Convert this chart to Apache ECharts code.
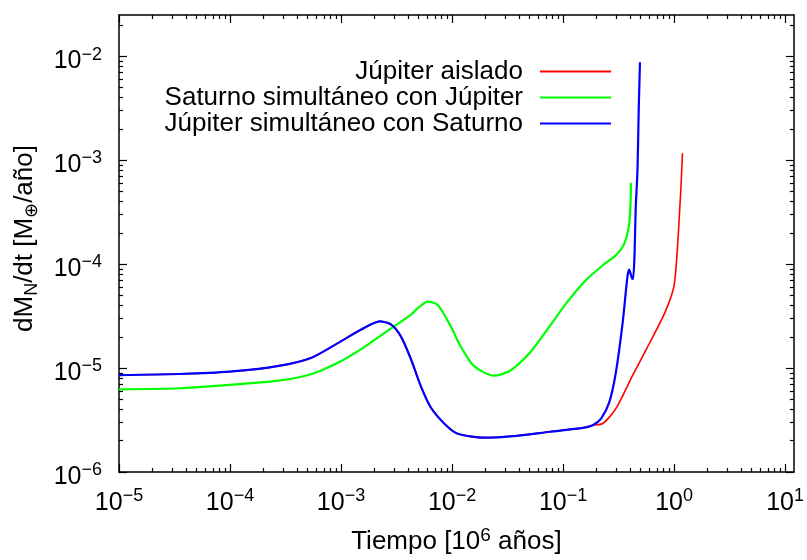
<!DOCTYPE html>
<html>
<head>
<meta charset="utf-8">
<script src="https://cdn.jsdelivr.net/npm/echarts@6/dist/echarts.min.js"></script>
<style>html,body{margin:0;padding:0;background:#fff}#c{width:807px;height:560px}</style>
</head>
<body>
<div id="c"></div>
<script>
// ---------------- data ----------------
const seriesNames = ['Júpiter aislado', 'Saturno simultáneo con Júpiter', 'Júpiter simultáneo con Saturno'];

// [tiempo (10^6 años), dM/dt (M_tierra/año)]
const jupiterAislado = [
  [1e-5, 8.57e-6], [3.52e-5, 8.77e-6], [9.86e-5, 9.23e-6], [2.75e-4, 1.05e-5], [5.43e-4, 1.26e-5],
  [9.46e-4, 1.75e-5], [1.52e-3, 2.35e-5], [2.23e-3, 2.82e-5], [2.81e-3, 2.64e-5], [3.45e-3, 2.03e-5],
  [4.25e-3, 1.23e-5], [5.21e-3, 6.78e-6], [6.40e-3, 4.22e-6], [8.49e-3, 2.93e-6], [1.11e-2, 2.35e-6],
  [1.93e-2, 2.14e-6], [3.83e-2, 2.23e-6], [7.58e-2, 2.44e-6], [0.151, 2.66e-6], [0.185, 2.82e-6],
  [0.228, 2.93e-6], [0.299, 4.07e-6], [0.422, 8.45e-6], [0.593, 1.69e-5], [0.836, 3.51e-5],
  [1.007, 6.49e-5], [1.14, 4.38e-4], [1.19, 1.17e-3]
];
const saturnoSimultaneo = [
  [1e-5, 6.25e-6], [3.52e-5, 6.40e-6], [9.86e-5, 6.89e-6], [2.75e-4, 7.57e-6], [5.43e-4, 8.77e-6],
  [9.46e-4, 1.13e-5], [1.52e-3, 1.52e-5], [2.47e-3, 2.18e-5], [4.27e-3, 3.27e-5], [4.89e-3, 3.75e-5],
  [6.03e-3, 4.37e-5], [7.40e-3, 4.07e-5], [9.73e-3, 2.53e-5], [1.19e-2, 1.63e-5], [1.57e-2, 1.05e-5],
  [2.37e-2, 8.45e-6], [3.33e-2, 9.42e-6], [5.04e-2, 1.41e-5], [7.58e-2, 2.53e-5], [0.107, 4.22e-5],
  [0.161, 7.05e-5], [0.228, 9.77e-5], [0.299, 1.22e-4], [0.355, 1.57e-4], [0.394, 2.44e-4],
  [0.407, 4.38e-4], [0.408, 6.08e-4]
];
const jupiterSimultaneo = [
  [1e-5, 8.57e-6], [3.52e-5, 8.77e-6], [9.86e-5, 9.23e-6], [2.75e-4, 1.05e-5], [5.43e-4, 1.26e-5],
  [9.46e-4, 1.75e-5], [1.52e-3, 2.35e-5], [2.23e-3, 2.82e-5], [2.81e-3, 2.64e-5], [3.45e-3, 2.03e-5],
  [4.25e-3, 1.23e-5], [5.21e-3, 6.78e-6], [6.40e-3, 4.22e-6], [8.49e-3, 2.93e-6], [1.11e-2, 2.35e-6],
  [1.93e-2, 2.14e-6], [3.83e-2, 2.23e-6], [7.58e-2, 2.44e-6], [0.151, 2.66e-6], [0.185, 2.82e-6],
  [0.220, 3.27e-6], [0.261, 4.70e-6], [0.299, 9.08e-6], [0.344, 2.72e-5], [0.380, 7.57e-5],
  [0.394, 8.89e-5], [0.416, 7.4e-5], [0.427, 7.2e-5], [0.440, 1.2e-4], [0.451, 3.4e-4],
  [0.468, 7.91e-4], [0.478, 2.37e-3], [0.483, 3.92e-3], [0.493, 8.77e-3]
];

// axis ranges and ticks
const xMin = 1e-5, xMax = 12;
const yMin = 1e-6, yMax = 0.025;
const xMajorTicks = [1e-5, 1e-4, 1e-3, 1e-2, 1e-1, 1, 10];
const xMinorTicks = [
  2e-5, 3e-5, 4e-5, 5e-5, 6e-5, 7e-5, 8e-5, 9e-5,
  2e-4, 3e-4, 4e-4, 5e-4, 6e-4, 7e-4, 8e-4, 9e-4,
  2e-3, 3e-3, 4e-3, 5e-3, 6e-3, 7e-3, 8e-3, 9e-3,
  2e-2, 3e-2, 4e-2, 5e-2, 6e-2, 7e-2, 8e-2, 9e-2,
  0.2, 0.3, 0.4, 0.5, 0.6, 0.7, 0.8, 0.9,
  2, 3, 4, 5, 6, 7, 8, 9
];
const yMajorTicks = [1e-6, 1e-5, 1e-4, 1e-3, 1e-2];
const yMinorTicks = [
  2e-6, 3e-6, 4e-6, 5e-6, 6e-6, 7e-6, 8e-6, 9e-6,
  2e-5, 3e-5, 4e-5, 5e-5, 6e-5, 7e-5, 8e-5, 9e-5,
  2e-4, 3e-4, 4e-4, 5e-4, 6e-4, 7e-4, 8e-4, 9e-4,
  2e-3, 3e-3, 4e-3, 5e-3, 6e-3, 7e-3, 8e-3, 9e-3,
  2e-2
];
const xTitle = '{b|Tiempo [10}{s|6}{b| años]}';
const yTitle = '{m|dM}{n|N}{m|/dt [M}{n|⊕}{m|/año]}';

// ---------------- chart ----------------
const FONT = 'Liberation Sans';
const colors = ['#ff0000', '#00ff00', '#0000ff'];
const tickRich = {
  b: {fontFamily: FONT, fontSize: 25, lineHeight: 28.5, color: '#000', verticalAlign: 'bottom'},
  s: {fontFamily: FONT, fontSize: 18, lineHeight: 18, color: '#000', verticalAlign: 'top'}
};
const xNameRich = {
  b: {fontFamily: FONT, fontSize: 26, lineHeight: 29, color: '#000', verticalAlign: 'bottom'},
  s: {fontFamily: FONT, fontSize: 19, lineHeight: 19, color: '#000', verticalAlign: 'top'}
};
const yNameRich = {
  m: {fontFamily: FONT, fontSize: 26, lineHeight: 29.5, color: '#000', verticalAlign: 'top'},
  n: {fontFamily: FONT, fontSize: 18, lineHeight: 18, color: '#000', verticalAlign: 'bottom'}
};
function powLabel(v) {
  const e = Math.round(Math.log10(v));
  return '{b|10}{s|' + (e < 0 ? '\u2212' + (-e) : String(e)) + '}';
}
const lineCol = '#000';
function mkAxis(dim, pos, ticks, len, opts) {
  const isX = dim === 'x';
  const ax = {
    type: 'log', logBase: 10,
    min: isX ? xMin : yMin, max: isX ? xMax : yMax,
    position: pos,
    axisLine: {show: !!opts.line, onZero: false, lineStyle: {color: lineCol, width: 1.5}},
    axisTick: {show: true, inside: true, length: len, customValues: ticks, lineStyle: {color: lineCol, width: 1.2}},
    axisLabel: {show: false},
    minorTick: {show: false},
    splitLine: {show: false},
    minorSplitLine: {show: false}
  };
  if (opts.labels) {
    ax.axisLabel = {show: true, customValues: ticks, formatter: powLabel, rich: tickRich,
      margin: isX ? 15 : 17, padding: isX ? 0 : [7, 0, 0, 0]};
  }
  return ax;
}

const xAxes = [
  Object.assign(mkAxis('x', 'bottom', xMajorTicks, 8, {line: true, labels: true}),
    {name: xTitle, nameLocation: 'middle', nameGap: 54, nameTextStyle: {rich: xNameRich}}),
  mkAxis('x', 'bottom', xMinorTicks, 4, {}),
  mkAxis('x', 'top', xMajorTicks, 8, {line: true}),
  mkAxis('x', 'top', xMinorTicks, 4, {})
];
const yAxes = [
  Object.assign(mkAxis('y', 'left', yMajorTicks, 8, {line: true, labels: true}),
    {name: yTitle, nameLocation: 'middle', nameGap: 78, nameTextStyle: {rich: yNameRich, padding: [0, 0, 0, 10]}}),
  mkAxis('y', 'left', yMinorTicks, 4, {}),
  mkAxis('y', 'right', yMajorTicks, 8, {line: true}),
  mkAxis('y', 'right', yMinorTicks, 4, {})
];

const dataSets = [jupiterAislado, saturnoSimultaneo, jupiterSimultaneo];
const widths = [1.6, 2.2, 2.2];
const series = seriesNames.map((n, i) => ({
  name: n, type: 'line', xAxisIndex: 0, yAxisIndex: 0,
  data: dataSets[i], showSymbol: false, symbol: 'none', smooth: 0.25,
  lineStyle: {color: colors[i], width: widths[i]}, itemStyle: {color: colors[i]},
  emphasis: {disabled: true}, z: 2 + i
}));

const legendTops = [55.5, 81.5, 107.5];
const legends = seriesNames.map((n, i) => ({
  data: [n], orient: 'vertical', align: 'right', right: 196, top: legendTops[i],
  icon: 'rect', itemWidth: 71, itemHeight: 2, itemGap: 0, padding: 0, selectedMode: false,
  textStyle: {fontFamily: FONT, fontSize: 26, lineHeight: 28, color: '#000', padding: [0, 12, 4, 0]}
}));

const chart = echarts.init(document.getElementById('c'), null, {renderer: 'canvas'});
chart.setOption({
  animation: false,
  backgroundColor: '#fff',
  textStyle: {fontFamily: FONT},
  grid: {left: 119, right: 8.5, top: 15, bottom: 83, containLabel: false},
  xAxis: xAxes,
  yAxis: yAxes,
  legend: legends,
  series: series
});
</script>
</body>
</html>
